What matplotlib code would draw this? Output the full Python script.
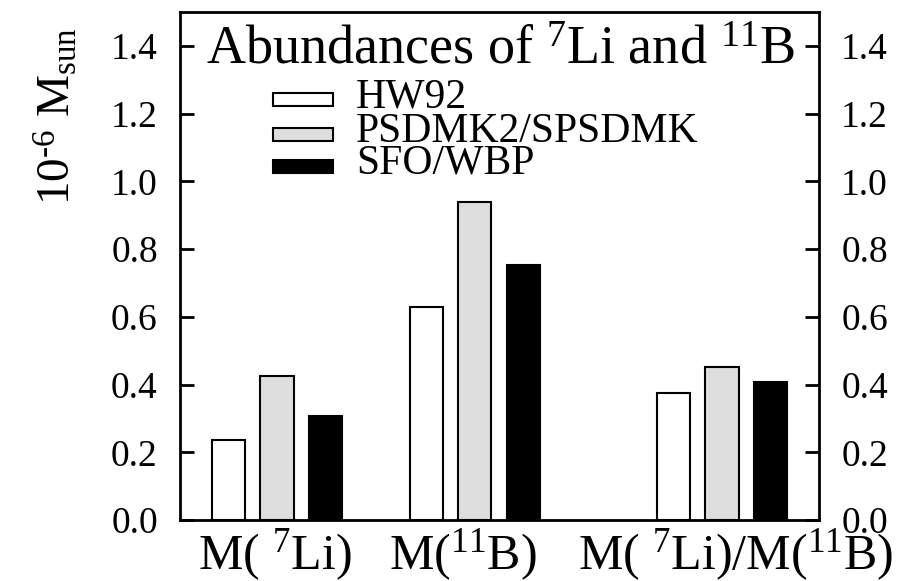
import numpy as np
import matplotlib
matplotlib.use("Agg")
import matplotlib.pyplot as plt
from matplotlib.patches import Rectangle
from matplotlib.transforms import blended_transform_factory

plt.rcParams['font.family'] = ['Liberation Serif', 'DejaVu Serif']
plt.rcParams['mathtext.fontset'] = 'custom'
plt.rcParams['mathtext.rm'] = 'Liberation Serif'
plt.rcParams['mathtext.it'] = 'Liberation Serif:italic'
plt.rcParams['mathtext.bf'] = 'Liberation Serif:bold'
plt.rcParams['mathtext.default'] = 'regular'

# ---- data ----
categories = ['M( $^{7}$Li)', 'M($^{11}$B)', 'M( $^{7}$Li)/M($^{11}$B)']
series_names = ['HW92', 'PSDMK2/SPSDMK', 'SFO/WBP']
hw92 = [0.235, 0.628, 0.375]
psdmk = [0.424, 0.940, 0.452]
sfo = [0.308, 0.753, 0.407]
yticks = [0.0, 0.2, 0.4, 0.6, 0.8, 1.0, 1.2, 1.4]
ytick_labels = ['0.0', '0.2', '0.4', '0.6', '0.8', '1.0', '1.2', '1.4']

series = [hw92, psdmk, sfo]
facecolors = ['white', '#dddddd', 'black']

fig = plt.figure(figsize=(9.2, 5.81), dpi=100)
W, H = 920, 581
ax_l, ax_r, ax_t, ax_b = 180, 819, 12, 520
ax = fig.add_axes([ax_l / W, (H - ax_b) / H, (ax_r - ax_l) / W, (ax_b - ax_t) / H])

group_x = np.array([1.0, 2.0, 3.25])
bar_w = 0.168
offset = 0.246
for i, (vals, fc, name) in enumerate(zip(series, facecolors, series_names)):
    ax.bar(group_x + (i - 1) * offset, vals, width=bar_w, color=fc,
           edgecolor='black', linewidth=1.5, label=name, zorder=2)

ax.set_xlim(0.509, 3.74)
ax.set_ylim(0, 1.5)
ax.set_yticks(yticks)
ax.set_yticklabels(ytick_labels)
ax.set_xticks([])
ax.tick_params(axis='y', direction='in', length=10, width=2, labelsize=27,
               pad=16, left=True, right=True, labelleft=True, labelright=True)
for s in ax.spines.values():
    s.set_linewidth(2)

def axx(px):
    return (px - ax_l) / (ax_r - ax_l)

def axy(py):
    return (ax_b - py) / (ax_b - ax_t)

# title inside the axes
ax.text(axx(500), axy(63), 'Abundances of $^{7}$Li and $^{11}$B', transform=ax.transAxes,
        ha='center', va='baseline', fontsize=39)

# manual legend
row_centers = [99, 134, 166]
for name, fc, yc in zip(series_names, facecolors, row_centers):
    ax.add_patch(Rectangle((axx(273), axy(yc + 6.5)), axx(333) - axx(273),
                           axy(yc - 6.5) - axy(yc + 6.5), transform=ax.transAxes,
                           facecolor=fc, edgecolor='black', linewidth=1.5, zorder=3))
    ax.text(axx(356), axy(yc + 8), name, transform=ax.transAxes, ha='left',
            va='baseline', fontsize=30)

# category labels below the axes
trans = blended_transform_factory(ax.transData, ax.transAxes)
label_x = [0.99, 1.937, 3.319]
for lx, lab in zip(label_x, categories):
    ax.text(lx, axy(569), lab, transform=trans, ha='center', va='baseline',
            fontsize=36, clip_on=False)

# y label
ax.text(axx(57), axy(116), '10$^{\u2010 6}$ M$_{sun}$', transform=ax.transAxes, rotation=90,
        ha='center', va='center', fontsize=34)

fig.savefig('out.png', dpi=100)
